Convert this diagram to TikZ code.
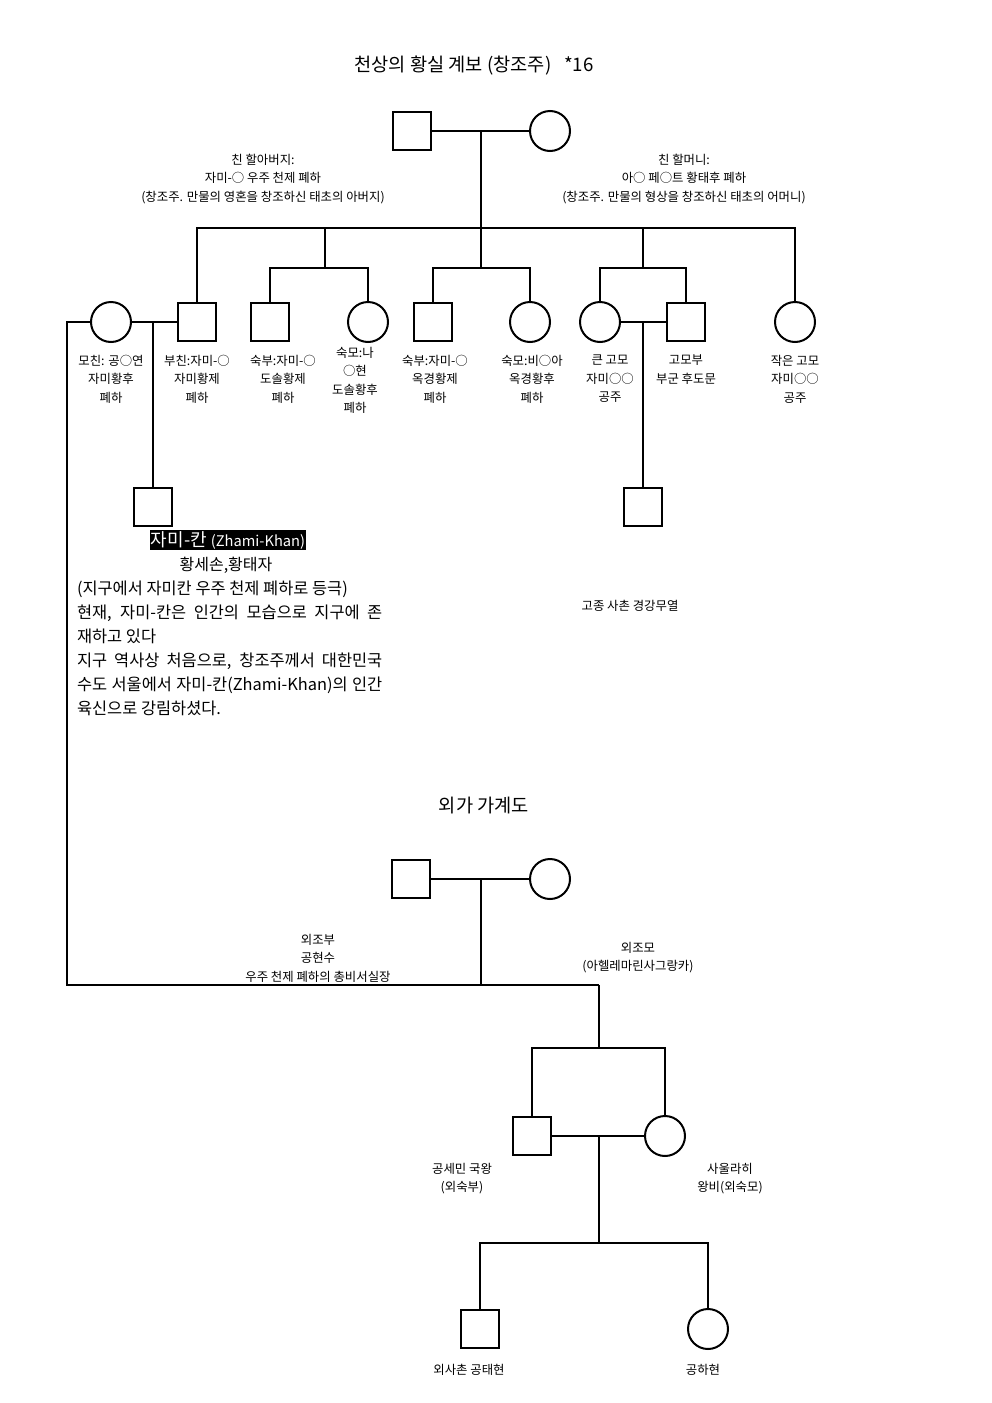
\documentclass[tikz,border=0pt]{standalone}
\usepackage{fontspec}
\setmainfont{Noto Sans CJK KR}
\usetikzlibrary{positioning}

\tikzset{
  male/.style={draw, rectangle, minimum size=29pt, inner sep=0pt},
  female/.style={draw, circle, minimum size=30pt, inner sep=0pt},
  lbl/.style={font=\fontsize{9.3}{13.9}\selectfont, align=center, anchor=north, inner sep=0pt},
  head/.style={font=\fontsize{14}{16}\selectfont, inner sep=0pt}
}
\newcommand{\fullline}[1]{\makebox[229pt][s]{#1}}

\begin{document}
\begin{tikzpicture}[x=0.75pt, y=-0.75pt, line width=1.5pt]
    \useasboundingbox (0,0) rectangle (992,1403);

    % Title
    \node[head] (title) at (474,66) {천상의 황실 계보 (창조주) \ \ *16};

    % Grandparents
    \node[male] (gfa) at (412,131) {};
    \node[female] (gmo) at (550,131) {};
    \coordinate (c1) at (481,131);
    \coordinate (top) at (481,228);
    \draw (gfa) -- (gmo);
    \draw (c1) -- (top);
    \node[lbl] (gfalbl) at (263,153) {친 할아버지:\\자미-○ 우주 천제 폐하\\(창조주. 만물의 영혼을 창조하신 태초의 아버지)};
    \node[lbl] (gmolbl) at (684,153) {친 할머니:\\아○ 페○트 황태후 폐하\\(창조주. 만물의 형상을 창조하신 태초의 어머니)};

    % Children
    \node[female] (mother) at (111,322) {};
    \node[male] (father) at (197,322) {};
    \node[male] (uncleA) at (270,322) {};
    \node[female] (auntA) at (368,322) {};
    \node[male] (uncleB) at (433,322) {};
    \node[female] (auntB) at (530,322) {};
    \node[female] (auntC) at (600,322) {};
    \node[male] (auntHus) at (686,322) {};
    \node[female] (auntD) at (795,322) {};

    \coordinate (bA) at (325,228);
    \coordinate (bA2) at (325,268);
    \coordinate (bB2) at (481,268);
    \coordinate (bC) at (643,228);
    \coordinate (bC2) at (643,268);
    \draw (father.north) |- (auntD.north |- top) -- (auntD.north);
    \draw (bA) -- (bA2);
    \draw (uncleA.north) |- (bA2) -| (auntA.north);
    \draw (top) -- (bB2);
    \draw (uncleB.north) |- (bB2) -| (auntB.north);
    \draw (bC) -- (bC2);
    \draw (auntC.north) |- (bC2) -| (auntHus.north);

    \node[lbl] (motherlbl) at (111,354) {모친: 공○연\\자미황후\\폐하};
    \node[lbl] (fatherlbl) at (197,354) {부친:자미-○\\자미황제\\폐하};
    \node[lbl] (uncleAlbl) at (283,354) {숙부:자미-○\\도솔황제\\폐하};
    \node[lbl] (auntAlbl) at (355,346) {숙모:나\\○현\\도솔황후\\폐하};
    \node[lbl] (uncleBlbl) at (435,354) {숙부:자미-○\\옥경황제\\폐하};
    \node[lbl] (auntBlbl) at (532,354) {숙모:비○아\\옥경황후\\폐하};
    \node[lbl] (auntClbl) at (610,354) {큰 고모\\자미○○\\공주};
    \node[lbl] (auntHuslbl) at (686,354) {고모부\\부군 후도문};
    \node[lbl] (auntDlbl) at (795,354) {작은 고모\\자미○○\\공주};

    % Zhami-Khan
    \node[male] (khan) at (153,507) {};
    \coordinate (m1) at (153,322);
    \draw (mother) -- (father);
    \draw (m1) -- (khan);
    \node[fill=black, text=white, inner sep=1pt, font=\fontsize{13.5}{15}\selectfont] (khanlbl) at (228,540) {자미-칸 {\fontsize{11}{12}\selectfont(Zhami-Khan)}};
    \node[font=\fontsize{12}{14}\selectfont, inner sep=0pt] (khantitle) at (226,565) {황세손,황태자};
    \node[font=\fontsize{12.3}{18}\selectfont, align=left, anchor=north west, inner sep=0pt] (khantext) at (76,580)
      {(지구에서 자미칸 우주 천제 폐하로 등극)\\
       \fullline{현재, 자미-칸은 인간의 모습으로 지구에 존}\\
       재하고 있다\\
       \fullline{지구 역사상 처음으로, 창조주께서 대한민국}\\
       \fullline{수도 서울에서 자미-칸(Zhami-Khan)의 인간}\\
       육신으로 강림하셨다.};

    % Cousin
    \node[male] (cousin) at (643,507) {};
    \coordinate (m2) at (643,322);
    \draw (auntC) -- (auntHus);
    \draw (m2) -- (cousin);
    \node[lbl] (cousinlbl) at (630,599) {고종 사촌 경강무열};

    % Maternal side
    \node[head] (otitle) at (484,806) {외가 가계도};
    \node[male] (ogfa) at (411,879) {};
    \node[female] (ogmo) at (550,879) {};
    \coordinate (c2) at (481,879);
    \coordinate (left) at (67,985);
    \coordinate (obase) at (599,985);
    \draw (ogfa) -- (ogmo);
    \draw (c2) -- (c2 |- obase);
    \draw (mother.west) -| (left) -- (obase);
    \node[lbl] (ogfalbl) at (318,933) {외조부\\공현수\\우주 천제 폐하의 총비서실장};
    \node[lbl] (ogmolbl) at (638,941) {외조모\\(아헬레마린사그랑카)};

    \node[male] (ouncle) at (532,1136) {};
    \node[female] (oaunt) at (665,1136) {};
    \coordinate (ob2) at (599,1048);
    \coordinate (c3) at (599,1136);
    \coordinate (ob3) at (599,1243);
    \draw (obase) -- (ob2);
    \draw (ouncle.north) |- (ob2) -| (oaunt.north);
    \draw (ouncle) -- (oaunt);
    \draw (c3) -- (ob3);
    \node[lbl] (ounclelbl) at (462,1162) {공세민 국왕\\(외숙부)};
    \node[lbl] (oauntlbl) at (730,1162) {사울라히\\왕비(외숙모)};

    \node[male] (ocousinA) at (480,1329) {};
    \node[female] (ocousinB) at (708,1329) {};
    \draw (ocousinA.north) |- (ob3) -| (ocousinB.north);
    \node[lbl] (ocousinAlbl) at (469,1363) {외사촌 공태현};
    \node[lbl] (ocousinBlbl) at (703,1363) {공하현};
\end{tikzpicture}
\end{document}
